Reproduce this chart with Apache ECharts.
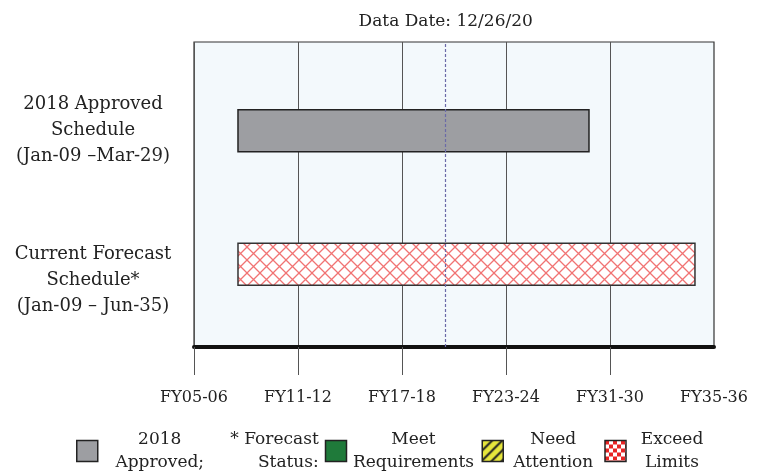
<!DOCTYPE html>
<html>
<head>
<meta charset="UTF-8">
<title>Schedule</title>
<script src="https://cdn.jsdelivr.net/npm/echarts@6.0.0/dist/echarts.min.js"></script>
<style>
    html, body { margin: 0; padding: 0; background: #fff; }
    #chart { width: 757px; height: 473px; }
</style>
</head>
<body>
<div id="chart"></div>
<script>
    // FY axis, one unit per label
    const fyLabels = ['FY05-06', 'FY11-12', 'FY17-18', 'FY23-24', 'FY31-30', 'FY35-36'];
    const rowLabels = ['2018 Approved\nSchedule\n(Jan-09 –Mar-29)', 'Current Forecast\nSchedule*\n(Jan-09 – Jun-35)'];
    const approvedRange = [0.423, 3.798];
    const forecastRange = [0.423, 4.817];
    const dataDate = 2.42;
    const dataDateText = 'Data Date: 12/26/20';
    const statusNames = ['Meet Requirements', 'Need Attention', 'Exceed Limits'];

    const FONT = '"DejaVu Serif", serif';

    function tile(size, draw) {
        const c = document.createElement('canvas');
        c.width = c.height = size;
        draw(c.getContext('2d'), size);
        return { image: c, repeat: 'repeat' };
    }

    // red cross hatch for the forecast bar
    const crossHatch = tile(13, (g, s) => {
        g.fillStyle = '#fff';
        g.fillRect(0, 0, s, s);
        g.strokeStyle = 'rgba(238,80,80,0.8)';
        g.lineWidth = 1.3;
        g.beginPath();
        g.moveTo(0, 0); g.lineTo(s, s);
        g.moveTo(s, 0); g.lineTo(0, s);
        g.stroke();
    });
    const yellowStripes = tile(10, (g, s) => {
        g.fillStyle = '#e6e63c';
        g.fillRect(0, 0, s, s);
        g.strokeStyle = '#222';
        g.lineWidth = 2;
        g.beginPath();
        g.moveTo(0, s); g.lineTo(s, 0);
        g.moveTo(-2, 2); g.lineTo(2, -2);
        g.moveTo(s - 2, s + 2); g.lineTo(s + 2, s - 2);
        g.stroke();
    });
    const checker = tile(8, (g, s) => {
        g.fillStyle = '#fff';
        g.fillRect(0, 0, s, s);
        g.fillStyle = '#e82424';
        g.fillRect(0, 0, s / 2, s / 2);
        g.fillRect(s / 2, s / 2, s / 2, s / 2);
    });

    const statusColors = ['#1f7a3a', yellowStripes, checker];

    const legendText = {
        '2018 Approved': '{a|2018}{b|* Forecast}\n{a|Approved;}{b|Status:}',
        'Meet Requirements': '{m|Meet}\n{m|Requirements}',
        'Need Attention': '{n|Need}\n{n|Attention}',
        'Exceed Limits': '{e|Exceed}\n{e|Limits}'
    };

    function renderRange(params, api) {
        const row = api.value(2);
        const p0 = api.coord([api.value(0), row]);
        const p1 = api.coord([api.value(1), row]);
        const h = api.size([0, 1])[1] * 0.315;
        return {
            type: 'rect',
            shape: { x: p0[0], y: p0[1] - h / 2, width: p1[0] - p0[0], height: h },
            style: api.style()
        };
    }

    const chart = echarts.init(document.getElementById('chart'));

    const option = {
        animation: false,
        textStyle: { fontFamily: FONT },
        grid: [
            { left: 194, right: 43, top: 42, bottom: 126, outerBoundsMode: 'none', show: true, backgroundColor: '#f3f9fc', borderColor: '#333', borderWidth: 1.2 },
            { left: 194, right: 43, top: 64, bottom: 142, outerBoundsMode: 'none' }
        ],
        xAxis: [
            {
                type: 'value', gridIndex: 0, min: 0, max: fyLabels.length - 1, interval: 1,
                axisLine: { show: true, lineStyle: { color: '#111', width: 4 } },
                axisTick: { show: true, length: 28, lineStyle: { color: '#555', width: 1 }, customValues: [0, 1, 2, 3, 4] },
                axisLabel: {
                    margin: 43, fontSize: 16, color: '#222', fontFamily: FONT,
                    formatter: v => fyLabels[Math.round(v)]
                },
                splitLine: { show: true, lineStyle: { color: '#555', width: 1 } }
            },
            { type: 'value', gridIndex: 1, min: 0, max: fyLabels.length - 1, show: false }
        ],
        yAxis: [
            { type: 'value', gridIndex: 0, min: 0, max: 1, show: false },
            {
                type: 'category', gridIndex: 1, inverse: true,
                data: rowLabels,
                axisLine: { show: false }, axisTick: { show: false }, splitLine: { show: false },
                axisLabel: {
                    margin: 101, align: 'center', fontSize: 18, lineHeight: 26, color: '#222', fontFamily: FONT,
                    // the forecast label sits a little below its bar
                    formatter: (v, i) => (i === 1 ? '{s| }\n' + v : v),
                    rich: { s: { lineHeight: 32, fontSize: 18 } }
                }
            }
        ],
        legend: {
            left: 76, top: 428, padding: 0, itemGap: 6,
            itemWidth: 21, itemHeight: 21, icon: 'rect', selectedMode: false,
            itemStyle: { borderColor: '#222', borderWidth: 1.5 },
            data: ['2018 Approved'].concat(statusNames),
            formatter: name => legendText[name],
            textStyle: {
                fontFamily: FONT, fontSize: 17, color: '#222', lineHeight: 23,
                rich: {
                    a: { width: 114, align: 'center', fontSize: 17, lineHeight: 23, fontFamily: FONT },
                    b: { width: 102, align: 'right', fontSize: 17, lineHeight: 23, fontFamily: FONT },
                    m: { width: 124, align: 'center', fontSize: 17, lineHeight: 23, fontFamily: FONT },
                    n: { width: 90, align: 'center', fontSize: 17, lineHeight: 23, fontFamily: FONT },
                    e: { width: 82, align: 'center', fontSize: 17, lineHeight: 23, fontFamily: FONT }
                }
            }
        },
        series: [
            {
                name: '2018 Approved', type: 'custom', xAxisIndex: 1, yAxisIndex: 1,
                renderItem: renderRange, encode: { x: [0, 1], y: 2 },
                itemStyle: { color: '#9d9ea2', borderColor: '#222', borderWidth: 1.5 },
                data: [[approvedRange[0], approvedRange[1], 0]]
            },
            {
                name: 'Current Forecast', type: 'custom', xAxisIndex: 1, yAxisIndex: 1,
                renderItem: renderRange, encode: { x: [0, 1], y: 2 },
                itemStyle: { color: crossHatch, borderColor: '#333', borderWidth: 1.5 },
                data: [[forecastRange[0], forecastRange[1], 1]]
            },
            {
                name: 'Data Date', type: 'line', xAxisIndex: 0, yAxisIndex: 0, data: [],
                markLine: {
                    silent: true, symbol: 'none',
                    lineStyle: { color: '#6a6aa8', type: [3, 2], width: 1.2 },
                    label: { show: true, position: 'end', distance: 12, formatter: dataDateText, fontSize: 17, color: '#222', fontFamily: FONT },
                    data: [{ xAxis: dataDate }]
                }
            }
        ].concat(statusNames.map((name, i) => ({
            name: name, type: 'custom', xAxisIndex: 1, yAxisIndex: 1,
            renderItem: renderRange, data: [],
            itemStyle: { color: statusColors[i], borderColor: '#222', borderWidth: 1.5 }
        })))
    };

    chart.setOption(option);
</script>
</body>
</html>
